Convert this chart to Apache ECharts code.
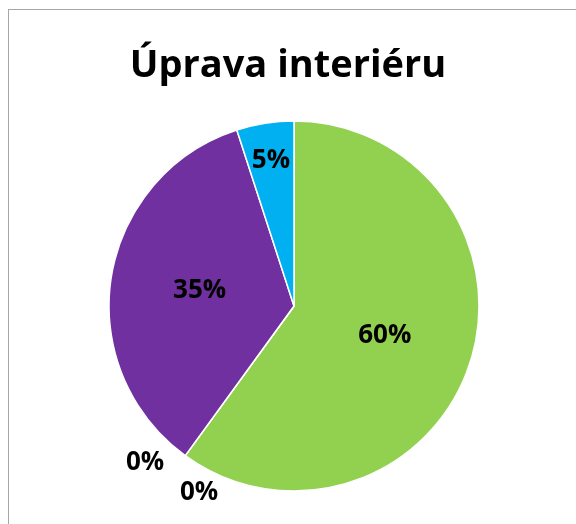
<!DOCTYPE html>
<html>
<head>
<meta charset="utf-8">
<script src="https://cdn.jsdelivr.net/npm/echarts@6/dist/echarts.min.js"></script>
<style>
  html, body { margin: 0; padding: 0; background: #fff; }
  #frame { position: absolute; left: 8px; top: 9px; width: 600px; height: 560px; border: 1px solid #a6a6a6; box-sizing: border-box; }
  #main { position: absolute; left: 0; top: 0; width: 576px; height: 524px; }
</style>
</head>
<body>
<div id="frame"></div>
<div id="main"></div>
<script>
  var title = 'Úprava interiéru';
  var categories = ['A', 'B', 'C', 'D', 'E'];
  var values = [60, 0, 0, 35, 5];
  var colors = ['#92D050', '#C0504D', '#F79646', '#7030A0', '#00B0F0'];

  var chartDom = document.getElementById('main');
  var myChart = echarts.init(chartDom);

  var cx = 294, cy = 306, r = 185;

  // where the labels go (angle clockwise from top, distance from centre)
  function labelSpot(i) {
    var spots = {
      1: [223.6, 216],
      2: [207, 209],
      4: [351, 147]
    };
    return spots[i];
  }

  var option = {
    animation: false,
    title: {
      text: title,
      left: 'center',
      top: 42,
      textStyle: {
        fontFamily: 'Open Sans',
        fontWeight: 'bold',
        fontSize: 38,
        color: '#000'
      }
    },
    series: [
      {
        type: 'pie',
        center: [cx, cy],
        radius: [0, r],
        startAngle: 90,
        clockwise: true,
        stillShowZeroSum: true,
        minAngle: 0,
        avoidLabelOverlap: false,
        itemStyle: {
          borderColor: '#fff',
          borderWidth: 1.5
        },
        label: {
          show: true,
          position: 'inside',
          formatter: '{d}%',
          fontFamily: 'Open Sans',
          fontWeight: 'bold',
          fontSize: 26,
          color: '#000'
        },
        labelLine: { show: false },
        labelLayout: function (params) {
          var s = labelSpot(params.dataIndex);
          if (!s) return {};
          var a = s[0] * Math.PI / 180;
          return {
            x: cx + s[1] * Math.sin(a),
            y: cy - s[1] * Math.cos(a),
            align: 'center',
            verticalAlign: 'middle'
          };
        },
        data: categories.map(function (c, i) {
          return {
            name: c,
            value: values[i],
            itemStyle: { color: colors[i] },
            label: values[i] === 0 ? { position: 'outside' } : {}
          };
        })
      }
    ]
  };

  myChart.setOption(option);
</script>
</body>
</html>
